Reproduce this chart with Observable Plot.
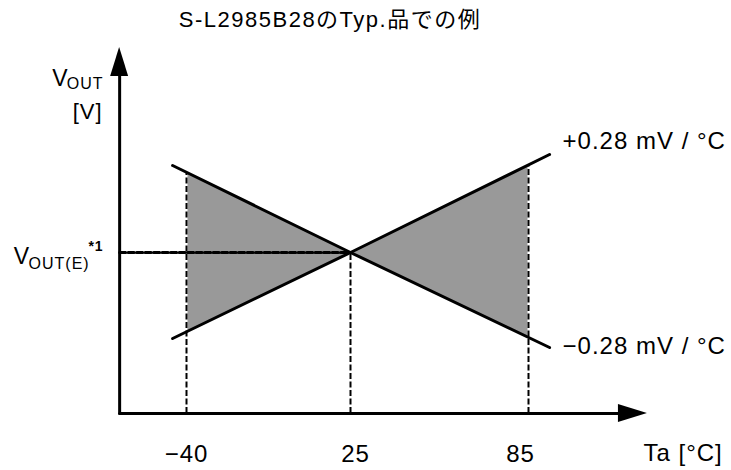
<!DOCTYPE html>
<html>
<head>
<meta charset="utf-8">
<script src="https://cdn.jsdelivr.net/npm/d3@7"></script>
<script src="https://cdn.jsdelivr.net/npm/@observablehq/plot@0.6"></script>
<style>
  body { margin: 0; background: #fff; }
  #title {
    height: 36px; width: 660px; overflow: hidden;
    text-align: center; line-height: 40px;
    font-family: "Liberation Sans", Arial, "Noto Sans CJK JP", sans-serif;
    font-size: 22px; letter-spacing: 1.5px; color: #000;
  }
  #chart svg { display: block; }
</style>
</head>
<body>
<div id="title"></div>
<div id="chart"></div>
<script>
// Example for the typical S-L2985B28 part: output voltage vs. ambient temperature
const titleText = "S-L2985B28のTyp.品での例";

// Temperature ticks (Ta [°C]) and their labels
const tempTicks = [-40, 25, 85];
const tickLabels = ["−40", "25", "85"];

// Output level at 25 °C (schematic units)
const voutE = 161;

// Temperature-coefficient lines, sampled at their ends and at 25 °C
const lineT = [-45.5, 25, 92.1];
const posCoef = [75, 161, 259];   // +0.28 mV / °C
const negCoef = [248, 161, 66];   // −0.28 mV / °C
const coefLabels = ["+0.28 mV / °C", "−0.28 mV / °C"];

// Spread between the two lines over the operating range
const bandT = [-40, 25, 85];
const bandLow = [81, 161, 76];
const bandHigh = [241, 161, 248];

// Axis extents: temperature axis from/to, voltage axis from/to
const axisT = [-66.5, 125.1];
const axisV = [0, 366];

document.getElementById("title").textContent = titleText;

const W = 731, H = 434;
const xScale = {type: "linear", domain: tempTicks, range: [186, 350, 528]};
const yScale = {type: "linear", domain: [0, 366], range: [377, 11]};
const xs = Plot.scale({x: xScale});
const ys = Plot.scale({y: yScale});

// Arrowhead geometry (pixels)
const headLen = 29, headHalf = 9;
const xTip = axisT[1];
const xBase = xs.invert(xs.apply(xTip) - headLen);
const yTip = axisV[1];
const yBase = ys.invert(ys.apply(yTip) + headLen);
const x0 = axisT[0];
const x0px = xs.apply(x0);

const band = bandT.map((t, i) => ({t, lo: bandLow[i], hi: bandHigh[i]}));
const posLine = lineT.map((t, i) => ({t, v: posCoef[i]}));
const negLine = lineT.map((t, i) => ({t, v: negCoef[i]}));
const guides = bandT.map((t, i) => ({t, y1: 0, y2: bandHigh[i]}));

const font = "Liberation Sans, Arial, Noto Sans CJK JP, sans-serif";
const tickDx = [0, 5, -8];

const plot = Plot.plot({
  width: W,
  height: H,
  margin: 0,
  x: {...xScale, axis: null},
  y: {...yScale, axis: null},
  style: {fontFamily: font, background: "white", color: "black", letterSpacing: "1px"},
  marks: [
    // shaded spread between the coefficient lines
    Plot.areaY(band, {x: "t", y1: "lo", y2: "hi", fill: "#999999"}),
    // guides from the operating-range limits and 25 °C down to the axis
    Plot.ruleX(guides, {x: "t", y1: "y1", y2: "y2", stroke: "white", strokeWidth: 2}),
    Plot.ruleX(guides, {x: "t", y1: "y1", y2: "y2", stroke: "black", strokeWidth: 2, strokeDasharray: "6,2.5"}),
    // guide from the voltage axis to the crossing point
    Plot.line([[x0, voutE], [25, voutE]], {stroke: "black", strokeWidth: 3, strokeDasharray: "6,2.5"}),
    // coefficient lines
    Plot.line(posLine, {x: "t", y: "v", stroke: "black", strokeWidth: 3}),
    Plot.line(negLine, {x: "t", y: "v", stroke: "black", strokeWidth: 3}),
    // axes with filled arrowheads
    Plot.line([[x0, 0], [xBase, 0]], {stroke: "black", strokeWidth: 3}),
    Plot.line([[x0, 0], [x0, yBase]], {stroke: "black", strokeWidth: 3}),
    Plot.areaY([{x: xBase, lo: -headHalf, hi: headHalf}, {x: xTip, lo: 0, hi: 0}],
      {x: "x", y1: "lo", y2: "hi", fill: "black"}),
    Plot.areaX([{y: yBase, a: xs.invert(x0px - headHalf), b: xs.invert(x0px + headHalf)}, {y: yTip, a: x0, b: x0}],
      {y: "y", x1: "a", x2: "b", fill: "black"}),
    // tick labels
    ...tempTicks.map((t, i) => Plot.text([tickLabels[i]], {
      x: () => t, y: () => 0, text: d => d, dx: tickDx[i], dy: 48,
      lineAnchor: "bottom", textAnchor: "middle", fontSize: 24, fill: "black"
    })),
    Plot.text(["Ta [°C]"], {x: () => xTip, y: () => 0, text: d => d, dx: -4, dy: 47,
      lineAnchor: "bottom", textAnchor: "start", fontSize: 24, fill: "black"}),
    // coefficient labels
    Plot.text([coefLabels[0]], {x: () => lineT[2], y: () => posCoef[2], text: d => d, dx: 13, dy: -6,
      lineAnchor: "bottom", textAnchor: "start", fontSize: 24, fill: "black"}),
    Plot.text([coefLabels[1]], {x: () => lineT[2], y: () => negCoef[2], text: d => d, dx: 13, dy: 6,
      lineAnchor: "bottom", textAnchor: "start", fontSize: 24, fill: "black"}),
    // voltage axis label: V_OUT [V]
    Plot.text(["V"], {x: () => x0, y: () => yTip, text: d => d, dx: -51, dy: 38,
      lineAnchor: "bottom", textAnchor: "end", fontSize: 23, fill: "black"}),
    Plot.text(["OUT"], {x: () => x0, y: () => yTip, text: d => d, dx: -16, dy: 41,
      lineAnchor: "bottom", textAnchor: "end", fontSize: 16, fill: "black"}),
    Plot.text(["[V]"], {x: () => x0, y: () => yTip, text: d => d, dx: -17, dy: 71,
      lineAnchor: "bottom", textAnchor: "end", fontSize: 22, fill: "black"}),
    // nominal output label: V_OUT(E) *1
    Plot.text(["V"], {x: () => x0, y: () => voutE, text: d => d, dx: -106, dy: 11,
      lineAnchor: "bottom", textAnchor: "start", fontSize: 23, fill: "black"}),
    Plot.text(["OUT(E)"], {x: () => x0, y: () => voutE, text: d => d, dx: -30, dy: 16,
      lineAnchor: "bottom", textAnchor: "end", fontSize: 16, fill: "black"}),
    Plot.text(["*1"], {x: () => x0, y: () => voutE, text: d => d, dx: -16, dy: -2,
      lineAnchor: "bottom", textAnchor: "end", fontSize: 14, fontWeight: "bold", fill: "black"})
  ]
});
document.getElementById("chart").appendChild(plot);
</script>
</body>
</html>
